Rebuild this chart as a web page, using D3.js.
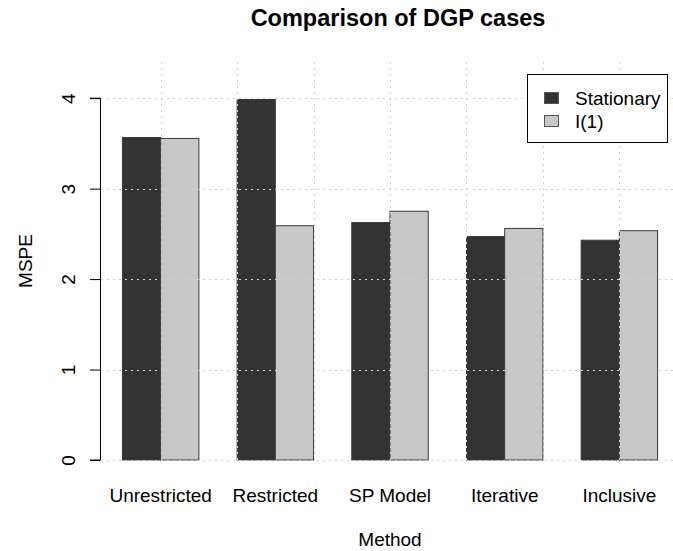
<!DOCTYPE html>
<html>
<head>
<meta charset="utf-8">
<script src="https://cdn.jsdelivr.net/npm/d3@7"></script>
<style>
  body { margin: 0; background: #fff; }
  svg { display: block; font-family: "Liberation Sans", Arial, Helvetica, sans-serif; }
</style>
</head>
<body>
<script>
// data
var methods = ["Unrestricted", "Restricted", "SP Model", "Iterative", "Inclusive"];
var seriesNames = ["Stationary", "I(1)"];
var stationary = [3.565, 3.985, 2.625, 2.47, 2.43];
var integrated = [3.555, 2.59, 2.75, 2.56, 2.535];
var yTicks = [0, 1, 2, 3, 4];
var colors = ["#333333", "#c8c8c8"];

var width = 673, height = 551;

var svg = d3.select("body").append("svg")
    .attr("width", width)
    .attr("height", height);

// barplot units: each bar is 1 wide, groups separated by a gap of 1
var x = d3.scaleLinear().domain([0.44, 15.56]).range([101, 679]);
var y = d3.scaleLinear().domain([0, 4.4]).range([460, 62]);

var data = [];
methods.forEach(function(m, i) {
  data.push({method: m, s: 0, left: 1 + 3 * i, value: stationary[i]});
  data.push({method: m, s: 1, left: 2 + 3 * i, value: integrated[i]});
});

// bars
svg.append("g").selectAll("rect")
    .data(data)
  .enter().append("rect")
    .attr("x", function(d) { return x(d.left); })
    .attr("width", function(d) { return x(d.left + 1) - x(d.left); })
    .attr("y", function(d) { return y(d.value); })
    .attr("height", function(d) { return y(0) - y(d.value); })
    .style("fill", function(d) { return colors[d.s]; })
    .style("stroke", "#3a3a3a")
    .style("stroke-width", 1);

// grid drawn on top of the bars (R grid())
var grid = svg.append("g")
    .style("stroke", "#d3d3d3")
    .style("stroke-width", 1)
    .style("stroke-dasharray", "2,4");

grid.selectAll(".hgrid")
    .data(yTicks)
  .enter().append("line")
    .attr("x1", x(0.44)).attr("x2", x(15.56))
    .attr("y1", function(d) { return Math.round(y(d)) + 0.5; })
    .attr("y2", function(d) { return Math.round(y(d)) + 0.5; });

grid.selectAll(".vgrid")
    .data([2, 4, 6, 8, 10, 12, 14])
  .enter().append("line")
    .attr("x1", function(d) { return Math.round(x(d)) + 0.5; })
    .attr("x2", function(d) { return Math.round(x(d)) + 0.5; })
    .attr("y1", y(4.4)).attr("y2", y(0));

// y axis
var yAxis = svg.append("g")
    .attr("transform", "translate(100,0)")
    .call(d3.axisLeft(y).tickValues(yTicks).tickFormat(d3.format("d")).tickSize(10).tickPadding(0));
yAxis.select(".domain").attr("d", "M-10," + y(0) + "H0.5V" + y(4) + "H-10")
    .style("stroke", "#000");
yAxis.selectAll(".tick line").style("stroke", "#000");
yAxis.selectAll(".tick text")
    .attr("x", null).attr("dy", null)
    .attr("transform", "translate(-25,0) rotate(-90)")
    .attr("text-anchor", "middle")
    .style("font-size", "19px")
    .style("fill", "#000");

// category labels
svg.append("g").selectAll("text")
    .data(methods)
  .enter().append("text")
    .attr("x", function(d, i) { return x(2 + 3 * i); })
    .attr("y", 502)
    .attr("text-anchor", "middle")
    .style("font-size", "19px")
    .text(function(d) { return d; });

// titles
svg.append("text")
    .attr("x", 398)
    .attr("y", 26)
    .attr("text-anchor", "middle")
    .style("font-size", "23.5px")
    .style("font-weight", "bold")
    .text("Comparison of DGP cases");

svg.append("text")
    .attr("x", 390)
    .attr("y", 546)
    .attr("text-anchor", "middle")
    .style("font-size", "19px")
    .text("Method");

svg.append("text")
    .attr("transform", "translate(32," + (y(0) + y(4.4)) / 2 + ") rotate(-90)")
    .attr("text-anchor", "middle")
    .style("font-size", "19px")
    .text("MSPE");

// legend
var legend = svg.append("g");
legend.append("rect")
    .attr("x", 527.5).attr("y", 74.5)
    .attr("width", 140).attr("height", 68)
    .style("fill", "#fff")
    .style("stroke", "#000");

seriesNames.forEach(function(name, i) {
  legend.append("rect")
      .attr("x", 544.5).attr("y", 92.5 + i * 23)
      .attr("width", 14).attr("height", 11)
      .style("fill", colors[i])
      .style("stroke", "#555");
  legend.append("text")
      .attr("x", 575).attr("y", 105 + i * 23)
      .style("font-size", "19px")
      .text(name);
});
</script>
</body>
</html>
